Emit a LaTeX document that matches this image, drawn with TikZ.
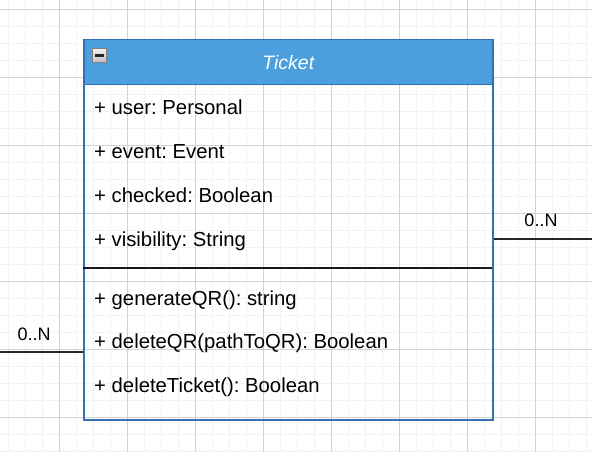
\documentclass[tikz,border=0pt]{standalone}
\usepackage{fontspec}
\setmainfont{Liberation Sans}
\definecolor{hdrblue}{HTML}{4A9FDC}
\definecolor{hdrline}{HTML}{3570B0}
\definecolor{gridfine}{HTML}{F2F2F2}
\definecolor{gridmajor}{HTML}{D2D2D2}
\frenchspacing

\begin{document}
\begin{tikzpicture}[x=1pt,y=1pt,yscale=-1,xscale=1,
  member/.style={anchor=base west,inner sep=0pt,text=black,font=\fontsize{20.3}{24}\selectfont},
  mult/.style={anchor=base,inner sep=0pt,text=black,font=\fontsize{18}{22}\selectfont},
  assoc/.style={draw=black!85,line width=1.4pt}]
\useasboundingbox (0,0) rectangle (592,452);

% Grid
\foreach \i in {0,...,34} \draw[gridfine,line width=1pt] (8.3+17*\i,0) -- (8.3+17*\i,452);
\foreach \j in {0,...,26} \draw[gridfine,line width=1pt] (0,9.3+17*\j) -- (592,9.3+17*\j);
\foreach \i in {0,...,7} \draw[gridmajor,line width=1pt] (59.3+68*\i,0) -- (59.3+68*\i,452);
\foreach \j in {0,...,6} \draw[gridmajor,line width=1pt] (0,9.3+68*\j) -- (592,9.3+68*\j);

% Class box
\node (ticket) [draw=hdrline,line width=1.5pt,minimum width=409pt,minimum height=380pt,anchor=north west,inner sep=0pt] at (83,39) {};
% Header
\node (head) [fill=hdrblue,draw=hdrline,line width=1.5pt,minimum width=409pt,minimum height=45pt,anchor=north west,inner sep=0pt] at (83,39) {};
% Text Node
\node (title) [text=white,inner sep=0pt,font=\fontsize{19.5}{23}\selectfont\itshape] at (head.center) {Ticket};
% Collapse icon
\node (collapse) [draw=gray,line width=1pt,top color=gray!10,bottom color=gray!50,minimum size=14pt,anchor=north west,inner sep=0pt] at (92.2,47.8) {};
\draw[line width=2.6pt,black!85] ([xshift=-4.6pt]collapse.center) -- ([xshift=4.6pt]collapse.center);

% Attributes
\node (attuser) [member] at (94,114.3) {+ user: Personal};
\node (attevent) [member] at (94,158.5) {+ event: Event};
\node (attchecked) [member] at (94,202.7) {+ checked: Boolean};
\node (attvis) [member] at (94,246.9) {+ visibility: String};
% Separator
\coordinate (sepl) at (83,268);
\coordinate (sepr) at (492,268);
\draw[black!90,line width=1.3pt] (sepl) -- (sepr);
% Operations
\node (opgen) [member] at (94,305.2) {+ generateQR(): string};
\node (opdelqr) [member] at (94,348.8) {+ deleteQR(pathToQR): Boolean};
\node (opdelticket) [member] at (94,392.4) {+ deleteTicket(): Boolean};

% Connection
\coordinate (rend) at (592,239);
\draw[assoc] (ticket.east |- rend) -- (rend);
\node (multr) [mult] at (541,226.6) {0..N};
% Connection
\coordinate (lend) at (0,352);
\draw[assoc] (lend) -- (lend -| ticket.west);
\node (multl) [mult] at (34.2,340.6) {0..N};

\end{tikzpicture}
\end{document}
